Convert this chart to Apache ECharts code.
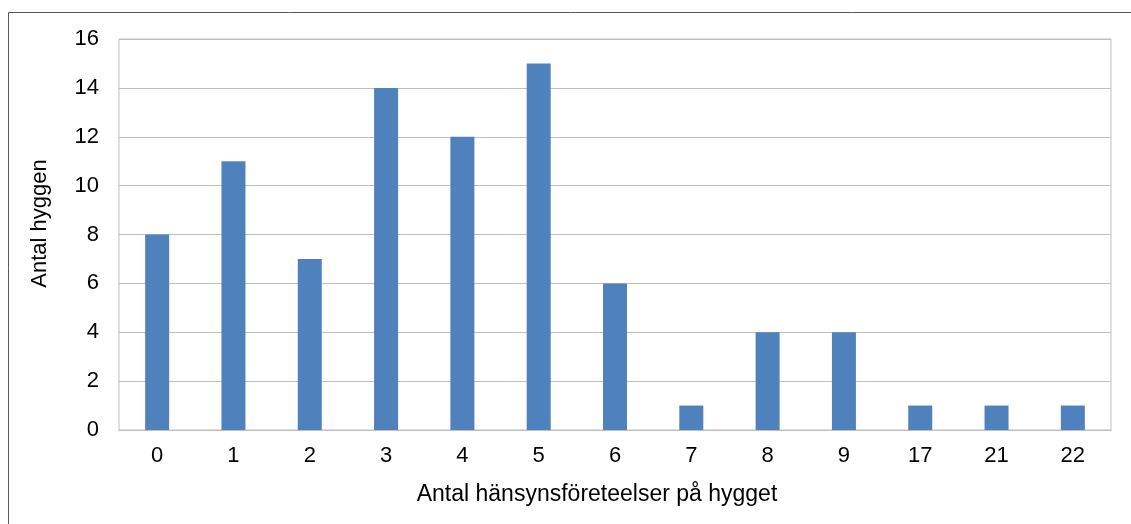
<!DOCTYPE html>
<html><head><meta charset="utf-8">
<script src="https://cdn.jsdelivr.net/npm/echarts@6/dist/echarts.min.js"></script>
<style>html,body{margin:0;padding:0;background:#fff}#c{width:1131px;height:524px}</style>
</head><body><div id="c"></div>
<script>
const categories = ['0','1','2','3','4','5','6','7','8','9','17','21','22'];
const counts = [8, 11, 7, 14, 12, 15, 6, 1, 4, 4, 1, 1, 1];
const yTicks = [0, 2, 4, 6, 8, 10, 12, 14, 16];
const xName = 'Antal hänsynsföreteelser på hygget';
const yName = 'Antal hyggen';

const chart = echarts.init(document.getElementById('c'));
const font = 'Liberation Sans, Arial, sans-serif';
chart.setOption({
  animation: false,
  graphic: [{
    type: 'rect', shape: {x: 8.5, y: 12.5, width: 1200, height: 600},
    style: {fill: 'none', stroke: '#595959', lineWidth: 1}, silent: true
  }],
  grid: {left: 119, right: 20, top: 39, bottom: 94, show: true, borderColor: '#BFBFBF', borderWidth: 1},
  xAxis: {
    type: 'category', data: categories,
    name: xName, nameLocation: 'middle', nameGap: 53,
    nameTextStyle: {fontFamily: font, fontSize: 23, color: '#000', padding: [0, 36, 0, 0]},
    axisLine: {show: true, lineStyle: {color: '#BFBFBF'}},
    axisTick: {show: false},
    axisLabel: {fontFamily: font, fontSize: 22, color: '#000', margin: 15}
  },
  yAxis: {
    type: 'value', min: yTicks[0], max: yTicks[yTicks.length-1], interval: 2,
    name: yName, nameLocation: 'middle', nameGap: 68, nameRotate: 90,
    nameTextStyle: {fontFamily: font, fontSize: 22, color: '#000', padding: [0, 0, 0, 22]},
    axisLine: {show: false}, axisTick: {show: false},
    splitLine: {lineStyle: {color: '#BFBFBF'}},
    axisLabel: {fontFamily: font, fontSize: 22, color: '#000', margin: 20}
  },
  series: [{
    type: 'bar', data: counts, barWidth: 24,
    itemStyle: {color: '#4F81BD'}
  }]
});
</script></body></html>
